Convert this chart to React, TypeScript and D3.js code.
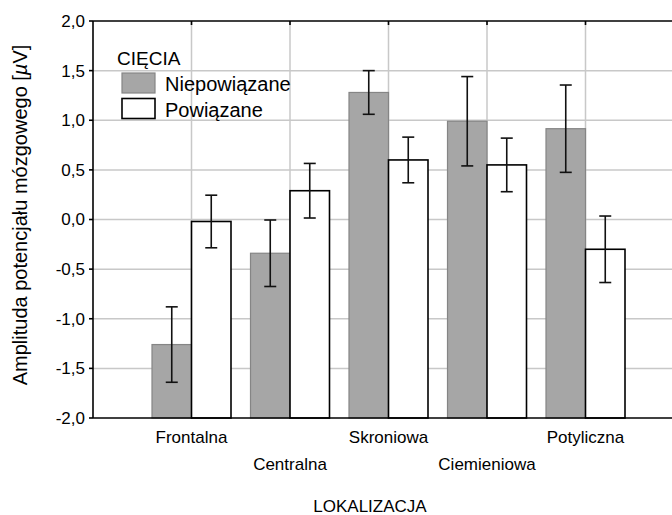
import React, { useEffect, useRef } from "react";
import * as d3 from "d3";

// kategorie (lokalizacja) i wartości średnie z przedziałami
const categories = ["Frontalna", "Centralna", "Skroniowa", "Ciemieniowa", "Potyliczna"];
const seriesNames = ["Niepowiązane", "Powiązane"];
const unrelated = [-1.26, -0.34, 1.28, 0.99, 0.915];
const unrelatedErr = [0.38, 0.335, 0.22, 0.45, 0.44];
const related = [-0.02, 0.29, 0.6, 0.55, -0.3];
const relatedErr = [0.265, 0.275, 0.23, 0.27, 0.335];
const yTicks = [-2, -1.5, -1, -0.5, 0, 0.5, 1, 1.5, 2];

export default function App() {
    const svgRef = useRef<SVGSVGElement>(null);

    useEffect(() => {
        const width = 672;
        const height = 515;
        const left = 93, right = 684, top = 21, bottom = 418;
        const font = "Liberation Sans, Arial, sans-serif";

        d3.select(svgRef.current).selectAll("*").remove();
        const svg = d3.select(svgRef.current)
            .attr("width", width)
            .attr("height", height);

        const x = d3.scalePoint<string>()
            .domain(categories)
            .range([left, right])
            .padding(1);

        const y = d3.scaleLinear()
            .domain([-2, 2])
            .range([bottom, top]);

        const barW = 39.5;

        // siatka
        svg.append("g").selectAll("line.h")
            .data(yTicks.slice(1, -1))
            .enter().append("line")
            .attr("x1", left).attr("x2", right)
            .attr("y1", d => y(d)).attr("y2", d => y(d))
            .attr("stroke", "#c8c8c8").attr("stroke-width", 1.5);

        svg.append("g").selectAll("line.v")
            .data(categories)
            .enter().append("line")
            .attr("x1", d => x(d)!).attr("x2", d => x(d)!)
            .attr("y1", top).attr("y2", bottom)
            .attr("stroke", "#c8c8c8").attr("stroke-width", 1.5);

        // słupki
        const groups = [
            { vals: unrelated, errs: unrelatedErr, dx: -barW, fill: "#a6a6a6", stroke: "#858585", sw: 1.2 },
            { vals: related, errs: relatedErr, dx: 0, fill: "#ffffff", stroke: "#000", sw: 1.6 },
        ];

        groups.forEach(g => {
            svg.append("g").selectAll("rect")
                .data(categories)
                .enter().append("rect")
                .attr("x", d => x(d)! + g.dx)
                .attr("width", barW)
                .attr("y", (d, i) => y(Math.max(0, g.vals[i])) - (g.vals[i] < 0 ? 0 : 0))
                .attr("y", (d, i) => Math.min(y(g.vals[i]), bottom))
                .attr("height", (d, i) => bottom - y(g.vals[i]))
                .attr("fill", g.fill)
                .attr("stroke", g.stroke)
                .attr("stroke-width", g.sw);
        });

        // słupki błędów
        groups.forEach(g => {
            const eg = svg.append("g").attr("stroke", "#111").attr("stroke-width", 1.6);
            categories.forEach((c, i) => {
                const cx = x(c)! + g.dx + barW / 2;
                const hi = y(g.vals[i] + g.errs[i]);
                const lo = y(g.vals[i] - g.errs[i]);
                eg.append("line").attr("x1", cx).attr("x2", cx).attr("y1", hi).attr("y2", lo);
                eg.append("line").attr("x1", cx - 6).attr("x2", cx + 6).attr("y1", hi).attr("y2", hi);
                eg.append("line").attr("x1", cx - 6).attr("x2", cx + 6).attr("y1", lo).attr("y2", lo);
            });
        });

        // osie
        svg.append("line").attr("x1", left).attr("x2", right).attr("y1", top).attr("y2", top)
            .attr("stroke", "#000").attr("stroke-width", 1.6);
        svg.append("line").attr("x1", left).attr("x2", right).attr("y1", bottom).attr("y2", bottom)
            .attr("stroke", "#000").attr("stroke-width", 1.6);
        svg.append("line").attr("x1", left).attr("x2", left).attr("y1", top).attr("y2", bottom)
            .attr("stroke", "#000").attr("stroke-width", 1.6);

        svg.append("g").selectAll("line")
            .data(categories)
            .enter().append("line")
            .attr("x1", d => x(d)!).attr("x2", d => x(d)!)
            .attr("y1", top).attr("y2", top + 4)
            .attr("stroke", "#000").attr("stroke-width", 1.6);

        svg.append("g").selectAll("line")
            .data(yTicks)
            .enter().append("line")
            .attr("x1", left - 4).attr("x2", left)
            .attr("y1", d => y(d)).attr("y2", d => y(d))
            .attr("stroke", "#000").attr("stroke-width", 1.6);

        const fmt = (v: number) => d3.format(".1f")(v).replace(".", ",").replace("−", "-");

        svg.append("g").selectAll("text")
            .data(yTicks)
            .enter().append("text")
            .attr("x", left - 8)
            .attr("y", d => y(d))
            .attr("dy", "0.35em")
            .attr("text-anchor", "end")
            .attr("font-family", font)
            .attr("font-size", 17)
            .text(d => fmt(d));

        svg.append("g").selectAll("text")
            .data(categories)
            .enter().append("text")
            .attr("x", d => x(d)!)
            .attr("y", (d, i) => i % 2 === 0 ? 443 : 470)
            .attr("text-anchor", "middle")
            .attr("font-family", font)
            .attr("font-size", 17)
            .text(d => d);

        svg.append("text")
            .attr("x", 370).attr("y", 512)
            .attr("text-anchor", "middle")
            .attr("font-family", font)
            .attr("font-size", 17)
            .text("LOKALIZACJA");

        const yt = svg.append("text")
            .attr("transform", "translate(27, 215) rotate(-90)")
            .attr("text-anchor", "middle")
            .attr("font-family", font)
            .attr("font-size", 20);
        yt.append("tspan").text("Amplituda potencjału mózgowego [");
        yt.append("tspan").attr("font-style", "italic").text("µ");
        yt.append("tspan").text("V]");

        // legenda
        svg.append("text")
            .attr("x", 117).attr("y", 65)
            .attr("font-family", font).attr("font-size", 19)
            .text("CIĘCIA");

        seriesNames.forEach((s, i) => {
            const g = groups[i];
            svg.append("rect")
                .attr("x", 122).attr("y", 73 + i * 25.5)
                .attr("width", 33).attr("height", 20)
                .attr("fill", g.fill).attr("stroke", g.stroke).attr("stroke-width", g.sw);
            svg.append("text")
                .attr("x", 165).attr("y", 91 + i * 25.5)
                .attr("font-family", font).attr("font-size", 20)
                .text(s);
        });
    }, []);

    return (
        <svg ref={svgRef} style={{ position: "absolute", left: 0, top: 0, background: "#fff" }}></svg>
    );
}
